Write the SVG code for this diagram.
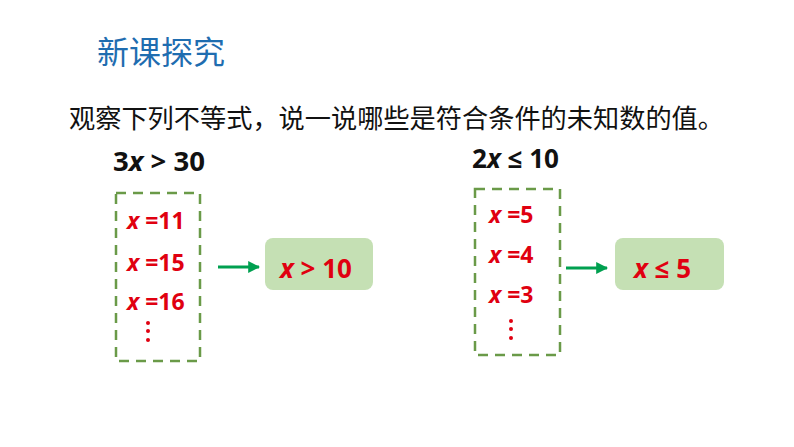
<svg xmlns="http://www.w3.org/2000/svg" width="794" height="447" viewBox="0 0 794 447">
<style>
.title{font-family:"Noto Sans CJK SC","Noto Sans",sans-serif;font-size:32px;fill:#1f6db0}
.q{font-family:"Noto Sans CJK SC","Noto Sans",sans-serif;font-size:26px;fill:#111}
.ineq{font-family:"Open Sans","Liberation Sans",sans-serif;font-weight:bold;font-size:26px;fill:#111}
.val{font-family:"Open Sans","Liberation Sans",sans-serif;font-weight:bold;font-size:23px;fill:#e00010}
.res{font-family:"Open Sans","Liberation Sans",sans-serif;font-weight:bold;font-size:26px;fill:#e00010}
.dash{fill:none;stroke:#6a9a48;stroke-width:2.5;stroke-dasharray:10,7}
.box{fill:#c5e0b4}
.arr{stroke:#00a050;stroke-width:3;fill:none}
.dot{fill:#e00010}
</style>
<defs>
<marker id="ah" viewBox="0 0 10 10" refX="9" refY="5" markerWidth="4" markerHeight="4" orient="auto">
<path d="M0,0 L10,5 L0,10 z" fill="#00a050"/>
</marker>
</defs>
<rect width="794" height="447" fill="#fff"/>
<text class="title" x="97" y="64">新课探究</text>
<text class="q" x="69" y="128" textLength="655" lengthAdjust="spacingAndGlyphs">观察下列不等式，说一说哪些是符合条件的未知数的值。</text>

<g id="left-ineq"><text class="ineq" x="113" y="171" textLength="92" lengthAdjust="spacingAndGlyphs">3<tspan font-style="italic">x</tspan> &gt; 30</text></g>
<g id="left-values">
<rect class="dash" x="116" y="193" width="84" height="168"/>
<text class="val" x="127" y="229"><tspan font-style="italic">x</tspan> =11</text>
<text class="val" x="127" y="271"><tspan font-style="italic">x</tspan> =15</text>
<text class="val" x="127" y="310"><tspan font-style="italic">x</tspan> =16</text>
<circle class="dot" cx="148" cy="323" r="2"/>
<circle class="dot" cx="148" cy="331" r="2"/>
<circle class="dot" cx="148" cy="340" r="2"/>
</g>
<g id="left-result">
<rect class="box" x="265" y="238" width="108" height="52" rx="8"/>
<text class="res" x="280" y="278"><tspan font-style="italic">x</tspan> &gt; 10</text>
</g>

<g id="right-ineq"><text class="ineq" x="472" y="168" textLength="87" lengthAdjust="spacingAndGlyphs">2<tspan font-style="italic">x</tspan> ≤ 10</text></g>
<g id="right-values">
<rect class="dash" x="475" y="189" width="85" height="166"/>
<text class="val" x="489" y="223"><tspan font-style="italic">x</tspan> =5</text>
<text class="val" x="489" y="263"><tspan font-style="italic">x</tspan> =4</text>
<text class="val" x="489" y="303"><tspan font-style="italic">x</tspan> =3</text>
<circle class="dot" cx="511" cy="321" r="2"/>
<circle class="dot" cx="511" cy="329" r="2"/>
<circle class="dot" cx="511" cy="338" r="2"/>
</g>
<g id="right-result">
<rect class="box" x="615" y="238" width="109" height="52" rx="8"/>
<text class="res" x="634" y="278"><tspan font-style="italic">x</tspan> ≤ 5</text>
</g>

<g id="connectors">
<line class="arr" x1="218" y1="267" x2="259" y2="267" marker-end="url(#ah)"/>
<line class="arr" x1="566" y1="268" x2="607" y2="268" marker-end="url(#ah)"/>
</g>
</svg>
